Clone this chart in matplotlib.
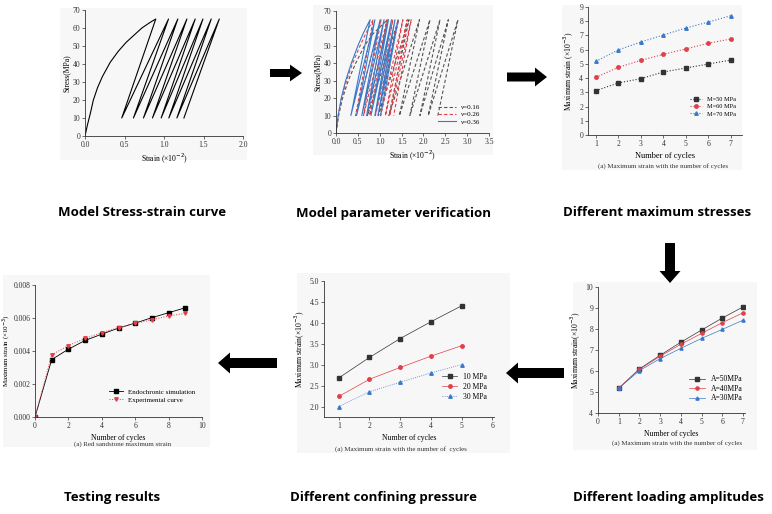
import matplotlib
matplotlib.use("Agg")
import matplotlib.pyplot as plt
from matplotlib.patches import Rectangle, FancyArrow
from matplotlib.ticker import FormatStrFormatter

W, H = 772, 514

# ---- panel 1: model stress-strain curve ----
p1_load_strain = [0, 0.03, 0.07, 0.106, 0.16, 0.22, 0.32, 0.42, 0.52, 0.62, 0.72, 0.82, 0.896]
p1_load_stress = [0, 6, 13, 20, 27, 33, 41, 47, 52, 56, 60, 63, 65]
p1_peaks = [0.896, 1.057, 1.175, 1.290, 1.395, 1.493, 1.598, 1.700]
p1_valleys = [0.465, 0.613, 0.740, 0.854, 0.964, 1.061, 1.163, 1.252]
peak_stress = 65
valley_stress = 10

# ---- panel 2: parameter verification (poisson ratio) ----
nu_labels = ["ν=0.16", "ν=0.26", "ν=0.36"]
nu_load_strain = [
    [0, 0.06, 0.15, 0.28, 0.45, 0.65, 0.85, 1.18],
    [0, 0.05, 0.13, 0.24, 0.38, 0.55, 0.68, 0.85],
    [0, 0.05, 0.12, 0.22, 0.35, 0.50, 0.62, 0.78],
]
nu_load_stress = [0, 10, 20, 30, 40, 50, 57, 65]
nu_peaks = [
    [1.18, 1.43, 1.67, 1.91, 2.15, 2.38, 2.57, 2.79],
    [0.85, 1.03, 1.17, 1.30, 1.42, 1.53, 1.63, 1.72],
    [0.78, 0.89, 1.01, 1.10, 1.20, 1.27, 1.35, 1.42],
]
nu_valleys = [
    [0.72, 0.97, 1.21, 1.45, 1.69, 1.92, 2.11, 2.33],
    [0.45, 0.63, 0.77, 0.90, 1.02, 1.13, 1.23, 1.32],
    [0.34, 0.47, 0.59, 0.70, 0.80, 0.89, 0.96, 1.02],
]

# ---- panel 3: different maximum stresses ----
cycles7 = [1, 2, 3, 4, 5, 6, 7]
m_labels = ["M=50 MPa", "M=60 MPa", "M=70 MPa"]
m50 = [3.12, 3.66, 3.96, 4.43, 4.71, 4.99, 5.27]
m60 = [4.05, 4.76, 5.25, 5.67, 6.05, 6.45, 6.75]
m70 = [5.18, 5.98, 6.54, 7.03, 7.52, 7.94, 8.39]

# ---- panel 4: different loading amplitudes ----
a_labels = ["A=50MPa", "A=40MPa", "A=30MPa"]
a50 = [5.18, 6.10, 6.75, 7.37, 7.95, 8.52, 9.05]
a40 = [5.18, 6.08, 6.70, 7.27, 7.79, 8.30, 8.77]
a30 = [5.18, 6.02, 6.59, 7.08, 7.55, 7.98, 8.42]

# ---- panel 5: different confining pressure ----
cycles5 = [1, 2, 3, 4, 5]
c_labels = ["10 MPa", "20 MPa", "30 MPa"]
c10 = [2.69, 3.18, 3.63, 4.03, 4.41]
c20 = [2.25, 2.66, 2.94, 3.21, 3.46]
c30 = [2.01, 2.36, 2.59, 2.81, 3.01]

# ---- panel 6: testing results ----
cycles10 = [0, 1, 2, 3, 4, 5, 6, 7, 8, 9]
sim = [0, 0.00348, 0.00411, 0.00464, 0.00502, 0.00539, 0.00569, 0.00602, 0.00632, 0.00662]
exp = [0, 0.00377, 0.00433, 0.00476, 0.00512, 0.00541, 0.00567, 0.00589, 0.00612, 0.00628]

BLACK = "#333333"
RED = "#e0404a"
BLUE = "#3a78c8"
SERIF = "Liberation Serif"

plt.rcParams["font.family"] = SERIF
plt.rcParams["font.size"] = 5.5

fig = plt.figure(figsize=(W / 100, H / 100), dpi=100)

# overlay in pixel coordinates for backgrounds, arrows and titles
ov = fig.add_axes([0, 0, 1, 1], zorder=0)
ov.set_xlim(0, W)
ov.set_ylim(H, 0)
ov.set_axis_off()

backgrounds = [(60, 8, 247, 160), (313, 5, 493, 155), (562, 5, 742, 170),
               (573, 282, 757, 450), (297, 273, 510, 453), (3, 275, 210, 447)]
for x0, y0, x1, y1 in backgrounds:
    ov.add_patch(Rectangle((x0, y0), x1 - x0, y1 - y0, color="#f7f7f7", lw=0))

arrows = [((270, 73), (302, 73), 8), ((507, 77), (547, 77), 9),
          ((670, 243), (670, 283), 10), ((564, 373), (506, 373), 10),
          ((277, 363), (218, 363), 10)]
for (x0, y0), (x1, y1), w in arrows:
    ov.add_patch(FancyArrow(x0, y0, x1 - x0, y1 - y0, width=w, head_width=2.1 * w,
                            head_length=12, length_includes_head=True,
                            color="black", lw=0))

titles = [(142, 213, "Model Stress-strain curve"),
          (394, 213, "Model parameter verification"),
          (657, 213, "Different maximum stresses"),
          (112, 497, "Testing results"),
          (384, 497, "Different confining pressure"),
          (668, 497, "Different loading amplitudes")]
for x, y, t in titles:
    ov.text(x, y, t, ha="center", va="center", fontsize=9.5, fontweight="bold",
            family="Open Sans")

captions = [(663, 166, "(a) Maximum strain with the number of cycles"),
            (677, 443, "(a) Maximum strain with the number of cycles"),
            (401, 449, "(a) Maximum strain with the number of  cycles"),
            (123, 444, "(a) Red sandstone maximum strain")]
for x, y, t in captions:
    ov.text(x, y, t, ha="center", va="center", fontsize=5, color="#333333")


def panel(left, top, right, bottom):
    ax = fig.add_axes([left / W, 1 - bottom / H, (right - left) / W, (bottom - top) / H],
                      zorder=2)
    ax.set_facecolor("none")
    for s in ["top", "right"]:
        ax.spines[s].set_visible(False)
    for s in ["left", "bottom"]:
        ax.spines[s].set_linewidth(0.6)
        ax.spines[s].set_color("#333333")
    ax.tick_params(labelsize=5.5, width=0.5, length=2, pad=1.5, colors="#333333")
    return ax


def loop_path(load_x, load_y, peaks, valleys):
    xs, ys = list(load_x), list(load_y)
    for i, v in enumerate(valleys):
        xs.append(v)
        ys.append(valley_stress)
        if i + 1 < len(peaks):
            xs.append(peaks[i + 1])
            ys.append(peak_stress)
    return xs, ys


# panel 1
ax1 = panel(85, 10, 243, 136)
x, y = loop_path(p1_load_strain, p1_load_stress, p1_peaks, p1_valleys)
ax1.plot(x, y, color="black", lw=0.8)
ax1.set_xlim(0, 2.0)
ax1.set_ylim(0, 70)
ax1.set_xticks([0, 0.5, 1.0, 1.5, 2.0])
ax1.xaxis.set_major_formatter(FormatStrFormatter("%.1f"))
ax1.set_yticks(range(0, 71, 10))
ax1.set_xlabel("Strain (×10$^{-2}$)", fontsize=5.5, labelpad=2)
ax1.set_ylabel("Stress(MPa)", fontsize=5.5, labelpad=1)

# panel 2
ax2 = panel(336, 11, 489, 133)
styles = [("#555555", (0, (3, 2))), (RED, (0, (3, 2))), (BLUE, "-")]
for lx, px, vx, lab, (c, ls) in zip(nu_load_strain, nu_peaks, nu_valleys, nu_labels, styles):
    x, y = loop_path(lx, nu_load_stress, px, vx)
    ax2.plot(x, y, color=c, ls=ls, lw=0.8, label=lab)
ax2.set_xlim(0, 3.5)
ax2.set_ylim(0, 70)
ax2.set_xticks([0, 0.5, 1.0, 1.5, 2.0, 2.5, 3.0, 3.5])
ax2.xaxis.set_major_formatter(FormatStrFormatter("%.1f"))
ax2.set_yticks(range(0, 71, 10))
ax2.set_xlabel("Strain (×10$^{-2}$)", fontsize=5.5, labelpad=2)
ax2.set_ylabel("Stress(MPa)", fontsize=5.5, labelpad=1)
ax2.legend(loc="lower right", fontsize=5, frameon=False, handlelength=2.5,
           labelspacing=0.2, borderaxespad=0.8)

# panel 3
ax3 = panel(588, 7, 742, 135)
ax3.plot(cycles7, m50, color=BLACK, ls=":", lw=0.8, marker="s", ms=2.5, label=m_labels[0])
ax3.plot(cycles7, m60, color=RED, ls=":", lw=0.8, marker="o", ms=2.5, label=m_labels[1])
ax3.plot(cycles7, m70, color=BLUE, ls=":", lw=0.8, marker="^", ms=2.5, label=m_labels[2])
ax3.set_xlim(0.65, 7.5)
ax3.set_ylim(0, 9)
ax3.set_xticks(cycles7)
ax3.set_yticks(range(0, 10))
ax3.set_xlabel("Number of cycles", fontsize=6, labelpad=3)
ax3.set_ylabel("Maximum strain (×10$^{-3}$)", fontsize=5.5, labelpad=2)
ax3.legend(loc="lower right", bbox_to_anchor=(1.0, 0.1), fontsize=4.5, frameon=False,
           handlelength=2, labelspacing=0.3)

# panel 4
ax4 = panel(598, 287, 745, 413)
ax4.plot(cycles7, a50, color=BLACK, lw=0.5, marker="s", ms=2.3, label=a_labels[0])
ax4.plot(cycles7, a40, color=RED, lw=0.5, marker="o", ms=2.3, label=a_labels[1])
ax4.plot(cycles7, a30, color=BLUE, lw=0.5, marker="^", ms=2.3, label=a_labels[2])
ax4.set_xlim(0, 7.1)
ax4.set_ylim(4, 10)
ax4.set_xticks(range(0, 8))
ax4.set_yticks(range(4, 11))
ax4.set_xlabel("Number of cycles", fontsize=5.5, labelpad=3)
ax4.set_ylabel("Maximum strain(×10$^{-3}$)", fontsize=5.5, labelpad=2)
ax4.legend(loc="lower right", bbox_to_anchor=(1.03, 0.03), fontsize=5.5, frameon=False,
           handlelength=2, labelspacing=0.2)

# panel 5
ax5 = panel(324, 281, 494, 417)
ax5.plot(cycles5, c10, color=BLACK, lw=0.5, marker="s", ms=2.5, label=c_labels[0])
ax5.plot(cycles5, c20, color=RED, lw=0.5, marker="o", ms=2.5, label=c_labels[1])
ax5.plot(cycles5, c30, color=BLUE, lw=0.6, ls=":", marker="^", ms=2.5, label=c_labels[2])
ax5.set_xlim(0.52, 6.05)
ax5.set_ylim(1.76, 5.0)
ax5.set_xticks(range(1, 7))
ax5.set_yticks([2.0, 2.5, 3.0, 3.5, 4.0, 4.5, 5.0])
ax5.yaxis.set_major_formatter(FormatStrFormatter("%.1f"))
ax5.set_xlabel("Number of cycles", fontsize=5.5, labelpad=3)
ax5.set_ylabel("Maximum strain(×10$^{-3}$)", fontsize=5.5, labelpad=2)
ax5.legend(loc="lower right", bbox_to_anchor=(1.0, 0.07), fontsize=5.5, frameon=False,
           handlelength=2, labelspacing=0.25)

# panel 6
ax6 = panel(35, 285, 202, 417)
ax6.plot(cycles10, sim, color="black", lw=0.6, marker="s", ms=2.3,
         label="Endochronic simulation")
ax6.plot(cycles10, exp, color=RED, lw=0.7, ls=":", marker="v", ms=2.5,
         label="Experimental curve")
ax6.set_xlim(0, 10)
ax6.set_ylim(0, 0.008)
ax6.set_xticks(range(0, 11, 2))
ax6.set_yticks([0, 0.002, 0.004, 0.006, 0.008])
ax6.yaxis.set_major_formatter(FormatStrFormatter("%.3f"))
ax6.tick_params(axis="y", pad=1)
ax6.set_xlabel("Number of cycles", fontsize=5.5, labelpad=3)
ax6.set_ylabel("Maximum strain (×10$^{-3}$)", fontsize=5, labelpad=0.5)
ax6.legend(loc="lower right", bbox_to_anchor=(1.0, 0.06), fontsize=5, frameon=False,
           handlelength=2, labelspacing=0.3)

fig.savefig("out.png", dpi=100)
